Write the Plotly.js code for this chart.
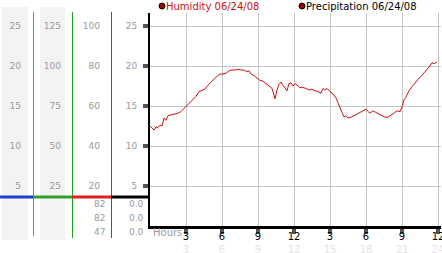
<!DOCTYPE html>
<html>
<head>
<meta charset="utf-8">
<script src="https://cdn.plot.ly/plotly-3.0.1.min.js"></script>
<style>html,body{margin:0;padding:0;background:#fff;}#chart{width:442px;height:253px;}</style>
</head>
<body>
<div id="chart"></div>
<script>
// ---- data ----
var hours = [0,0.17,0.33,0.5,0.67,0.83,1.0,1.17,1.33,1.5,1.75,2.0,2.33,2.58,2.83,3.08,3.33,3.58,3.83,4.08,4.33,4.58,4.83,5.08,5.33,5.58,5.83,6.08,6.33,6.58,6.83,7.08,7.33,7.58,7.83,8.08,8.25,8.42,8.67,8.92,9.17,9.42,9.67,9.92,10.17,10.42,10.58,10.75,10.92,11.08,11.25,11.42,11.58,11.75,11.92,12.08,12.25,12.5,12.75,13.0,13.25,13.5,13.75,14.0,14.25,14.42,14.58,14.75,15.0,15.25,15.5,15.67,15.83,16.0,16.17,16.33,16.5,16.75,17.0,17.25,17.5,17.75,18.0,18.17,18.33,18.58,18.83,19.08,19.33,19.58,19.83,20.08,20.33,20.58,20.83,21.0,21.17,21.33,21.58,21.83,22.08,22.33,22.58,22.83,23.08,23.33,23.5,23.67,23.92];
var humidity = [12.5,12.2,12.0,12.4,12.3,12.6,12.5,13.5,13.2,13.8,13.9,14.0,14.1,14.3,14.7,15.0,15.4,15.8,16.2,16.8,17.0,17.1,17.6,18.0,18.4,18.7,19.0,19.0,19.1,19.4,19.5,19.5,19.6,19.5,19.5,19.3,19.4,19.0,18.8,18.5,18.2,18.1,17.8,17.5,17.2,15.9,17.0,17.7,18.0,17.6,17.2,16.9,17.8,17.9,17.5,17.8,17.6,17.3,17.3,17.2,17.0,17.1,16.9,16.8,16.6,17.2,17.0,17.2,16.8,16.5,16.0,15.3,14.7,14.2,13.6,13.8,13.5,13.6,13.8,14.0,14.1,14.4,14.6,14.3,14.1,14.4,14.2,13.9,13.7,13.6,13.6,13.8,14.1,14.4,14.3,14.9,15.8,16.1,16.9,17.4,17.9,18.3,18.7,19.1,19.5,20.0,20.4,20.3,20.5];

var hourTicks = [3,6,9,12,15,18,21,24];
var hourLabels = ["3","6","9","12","3","6","9","12"];
var militaryLabels = ["3","6","9","12","15","18","21","24"];

var mainTicks = [5,10,15,20,25];
var scaleA = [5,10,15,20,25];
var scaleB = [25,50,75,100,125];
var scaleC = [20,40,60,80,100];

var readingsC = ["82","82","47"];
var readingsD = ["0.0","0.0","0.0"];

var legendNames = ["Humidity 06/24/08","Precipitation 06/24/08"];

// ---- layout helpers ----
var W = 441;             // paper width in px (margin l=0, r=1)
var H = 213;             // plot height in px (t=13, b=27)
function px(x){ return x / W; }
function py(y){ return (226 - y) / H; }

var font = "DejaVu Sans";
var gray = "#9a9a9a";

var ticktextX = hourTicks.map(function(t,i){
  return hourLabels[i] + "<br><span style='color:#e4e4e4'>" + militaryLabels[i] + "</span>";
});

var traces = [
  {x: hours, y: humidity, type: "scatter", mode: "lines",
   line: {color: "#cc1111", width: 1}, hoverinfo: "skip", showlegend: false},
  {x: [], y: [], type: "scatter", mode: "lines", yaxis: "y2", showlegend: false, hoverinfo: "skip"},
  {x: [], y: [], type: "scatter", mode: "lines", yaxis: "y3", showlegend: false, hoverinfo: "skip"},
  {x: [], y: [], type: "scatter", mode: "lines", yaxis: "y4", showlegend: false, hoverinfo: "skip"}
];

function freeAxis(pos, ticks, maxv){
  return {
    overlaying: "y", anchor: "free", position: pos, side: "left",
    range: [0, maxv], tickvals: ticks, ticktext: ticks.map(String),
    showgrid: false, zeroline: false, showline: false, ticks: "",
    tickfont: {family: font, size: 9, color: gray}, fixedrange: true
  };
}

var shapes = [
  // gray bands
  {type:"rect", xref:"paper", yref:"paper", x0:px(2), x1:px(28), y0:py(240), y1:py(7), fillcolor:"#f3f3f3", line:{width:0}, layer:"below"},
  {type:"rect", xref:"paper", yref:"paper", x0:px(40), x1:px(65), y0:py(240), y1:py(7), fillcolor:"#f3f3f3", line:{width:0}, layer:"below"},
  // vertical colored lines
  {type:"line", xref:"paper", yref:"paper", x0:px(33.5), x1:px(33.5), y0:py(236), y1:py(12), line:{color:"#2b9ad8", width:1}},
  {type:"line", xref:"paper", yref:"paper", x0:px(72.5), x1:px(72.5), y0:py(238), y1:py(12), line:{color:"#22a022", width:1}},
  {type:"line", xref:"paper", yref:"paper", x0:px(111.5), x1:px(111.5), y0:py(238), y1:py(12), line:{color:"#cc2222", width:1}},
  // horizontal colored line
  {type:"line", xref:"paper", yref:"paper", x0:px(0), x1:px(33), y0:py(197), y1:py(197), line:{color:"#1c3fcf", width:3}},
  {type:"line", xref:"paper", yref:"paper", x0:px(33), x1:px(72), y0:py(197), y1:py(197), line:{color:"#2ea02e", width:3}},
  {type:"line", xref:"paper", yref:"paper", x0:px(72), x1:px(111), y0:py(197), y1:py(197), line:{color:"#dd2020", width:3}},
  {type:"line", xref:"paper", yref:"paper", x0:px(111), x1:px(149), y0:py(197), y1:py(197), line:{color:"#000", width:3}},
  // legend dots
  {type:"circle", xref:"paper", yref:"paper", x0:px(159), x1:px(165), y0:py(9), y1:py(3), fillcolor:"#a00000", line:{color:"#000", width:1}},
  {type:"circle", xref:"paper", yref:"paper", x0:px(299), x1:px(305), y0:py(9), y1:py(3), fillcolor:"#a00000", line:{color:"#000", width:1}}
];

var annotations = [
  {xref:"paper", yref:"paper", x:px(164), y:py(6.5), xanchor:"left", yanchor:"middle", text:legendNames[0], showarrow:false, font:{family:font, size:10, color:"#cc1111"}},
  {xref:"paper", yref:"paper", x:px(304), y:py(6.5), xanchor:"left", yanchor:"middle", text:legendNames[1], showarrow:false, font:{family:font, size:10, color:"#000"}},
  {xref:"paper", yref:"paper", x:px(151), y:py(232), xanchor:"left", yanchor:"middle", text:"Hours", showarrow:false, font:{family:font, size:10, color:gray}}
];
readingsC.forEach(function(t,i){
  annotations.push({xref:"paper", yref:"paper", x:px(107), y:py(204+14*i), xanchor:"right", yanchor:"middle", text:t, showarrow:false, font:{family:font, size:9, color:gray}});
});
readingsD.forEach(function(t,i){
  annotations.push({xref:"paper", yref:"paper", x:px(146), y:py(204+14*i), xanchor:"right", yanchor:"middle", text:t, showarrow:false, font:{family:font, size:9, color:gray}});
});

var layout = {
  width: 442, height: 253,
  margin: {l: 0, r: 1, t: 13, b: 27, pad: 0},
  paper_bgcolor: "#fff", plot_bgcolor: "#fff",
  showlegend: false,
  xaxis: {
    domain: [150/W, 1], range: [0, 24.25],
    tickvals: hourTicks, ticktext: ticktextX,
    ticks: "outside", ticklen: 5, tickwidth: 4, tickcolor: "#555",
    ticklabeloverflow: "allow", ticklabelstandoff: -6,
    showgrid: true, gridcolor: "#c4c4c4", gridwidth: 1,
    showline: true, linecolor: "#000", linewidth: 3,
    zeroline: false, tickfont: {family: font, size: 10, color: "#000"}, fixedrange: true
  },
  yaxis: {
    range: [0, 26.625], tickvals: mainTicks, ticktext: mainTicks.map(String),
    ticks: "outside", ticklen: 5, tickwidth: 4, tickcolor: "#555",
    ticklabelstandoff: 4,
    showgrid: true, gridcolor: "#c4c4c4", gridwidth: 1,
    showline: true, linecolor: "#000", linewidth: 2,
    zeroline: false, tickfont: {family: font, size: 9, color: gray}, fixedrange: true
  },
  yaxis2: freeAxis(px(21), scaleA, 26.625),
  yaxis3: freeAxis(px(61), scaleB, 133.125),
  yaxis4: freeAxis(px(100), scaleC, 106.5),
  shapes: shapes,
  annotations: annotations
};

Plotly.newPlot("chart", traces, layout, {displayModeBar: false, staticPlot: true});
</script>
</body>
</html>
